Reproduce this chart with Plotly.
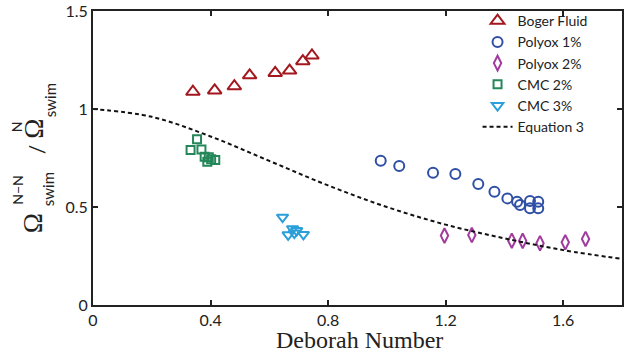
import plotly.graph_objects as go

# ---- data ----
boger_x = [0.340, 0.414, 0.481, 0.533, 0.620, 0.669, 0.714, 0.745]
boger_y = [1.088, 1.095, 1.116, 1.172, 1.184, 1.196, 1.244, 1.273]

poly1_x = [0.979, 1.042, 1.157, 1.233, 1.311, 1.366, 1.410, 1.443, 1.453, 1.487, 1.515, 1.487, 1.515]
poly1_y = [0.736, 0.709, 0.675, 0.668, 0.617, 0.578, 0.544, 0.527, 0.510, 0.531, 0.527, 0.493, 0.493]

poly2_x = [1.196, 1.289, 1.425, 1.462, 1.521, 1.607, 1.676]
poly2_y = [0.354, 0.357, 0.328, 0.327, 0.315, 0.320, 0.337]

cmc2_x = [0.354, 0.332, 0.369, 0.380, 0.389, 0.402, 0.416, 0.394]
cmc2_y = [0.846, 0.791, 0.794, 0.757, 0.731, 0.743, 0.740, 0.754]

cmc3_x = [0.645, 0.664, 0.679, 0.693, 0.716, 0.685]
cmc3_y = [0.448, 0.358, 0.389, 0.380, 0.360, 0.367]

eq_x = [0.0, 0.2, 0.4, 0.6, 0.8, 1.0, 1.2, 1.4, 1.6, 1.8]
eq_y = [1.0, 0.96, 0.86, 0.735, 0.61, 0.50, 0.41, 0.34, 0.28, 0.235]

x_ticks = [0, 0.4, 0.8, 1.2, 1.6]
x_ticktext = ["0", "0.4", "0.8", "1.2", "1.6"]
y_ticks = [0, 0.5, 1, 1.5]
y_ticktext = ["0", "0.5", "1", "1.5"]

SANS = "Lato"
SERIF = "Liberation Serif"

fig = go.Figure()

def add_markers(x, y, name, symbol, color, size):
    fig.add_trace(go.Scatter(
        x=x, y=y, mode="markers", name=name,
        marker=dict(symbol=symbol, size=size, color=color,
                    line=dict(color=color, width=2)),
    ))

add_markers(boger_x, boger_y, "Boger Fluid", "triangle-up-open", "#A3171E", 12)
add_markers(poly1_x, poly1_y, "Polyox 1%", "circle-open", "#2F4FA6", 10)
add_markers(poly2_x, poly2_y, "Polyox 2%", "diamond-tall-open", "#A23B9E", 10.5)
add_markers(cmc2_x, cmc2_y, "CMC 2%", "square-open", "#24875A", 8)
add_markers(cmc3_x, cmc3_y, "CMC 3%", "triangle-down-open", "#2B9FD9", 10)

fig.add_trace(go.Scatter(
    x=eq_x, y=eq_y, mode="lines", name="Equation 3",
    line=dict(color="#111111", width=2, dash="4px,3px", shape="spline"),
))

axis_common = dict(
    showline=True, linecolor="#222222", linewidth=2, mirror="ticks",
    ticks="inside", ticklen=5, tickwidth=1.5, tickcolor="#222222",
    showgrid=False, zeroline=False,
    tickfont=dict(family=SANS, size=16, color="#222222"),
)

fig.update_xaxes(range=[0, 1.8], tickvals=x_ticks, ticktext=x_ticktext, **axis_common)
fig.update_yaxes(range=[0, 1.5], tickvals=y_ticks, ticktext=y_ticktext, **axis_common)

L, R, T, B = 93, 0, 11, 48
W, H = 624, 353
pw, ph = W - L - R, H - T - B

def px2paper(px, py):
    return (px - L) / pw, (H - B - py) / ph

annots = []
def add_text(text, px, py, family, size, angle=-90):
    x, y = px2paper(px, py)
    annots.append(dict(text=text, x=x, y=y, xref="paper", yref="paper",
                       xanchor="center", yanchor="middle", showarrow=False,
                       borderpad=0,
                       textangle=angle, font=dict(family=family, size=size, color="#222222")))

# y-axis title pieces: Ω^{N−N}_{swim} / Ω^{N}_{swim}
add_text("Ω", 33, 223, SERIF, 27)
add_text("N−N", 16.5, 190, SANS, 14)
add_text("swim", 48, 189, SANS, 15)
add_text("/", 36, 149, SANS, 21)
add_text("Ω", 33, 128.5, SERIF, 27)
add_text("N", 16.5, 126.5, SANS, 14)
add_text("swim", 50, 100, SANS, 15)
# x-axis title
add_text("Deborah Number", 361, 340, SERIF, 24, angle=0)

fig.update_layout(
    width=W, height=H,
    margin=dict(l=L, r=R, t=T, b=B),
    paper_bgcolor="white", plot_bgcolor="white",
    annotations=annots,
    legend=dict(x=(479 - L) / pw, y=1.02, xanchor="left", yanchor="top",
                font=dict(family=SANS, size=14, color="#222222"),
                bgcolor="rgba(0,0,0,0)", itemwidth=30, tracegroupgap=0),
    showlegend=True,
)

fig.write_html("out.html")
